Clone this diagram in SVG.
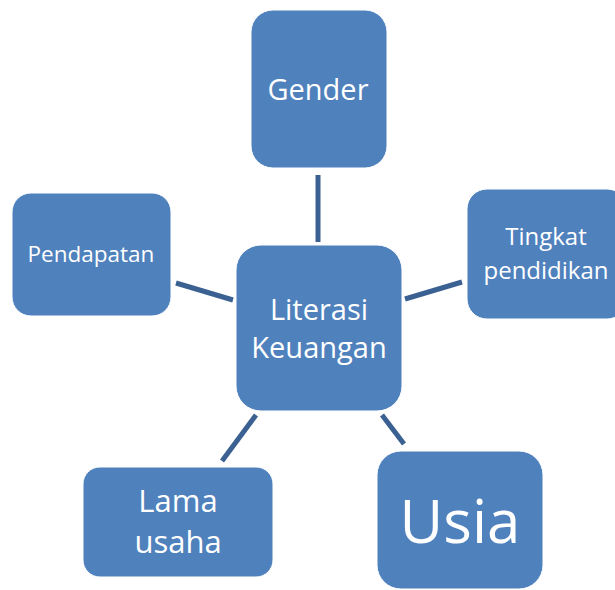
<svg xmlns="http://www.w3.org/2000/svg" width="615" height="590" viewBox="0 0 615 590">
<style>
.box{fill:#4f81bd;stroke:#ffffff;stroke-width:1}
.t{fill:#ffffff;font-family:"Open Sans","Noto Sans",sans-serif;text-anchor:middle}
.c{stroke:#3a6191;stroke-width:5;fill:none}
</style>
<rect width="615" height="590" fill="#ffffff"/>
<g id="connectors">
<line class="c" x1="318" y1="175" x2="318" y2="242"/>
<line class="c" x1="176" y1="283" x2="233" y2="300"/>
<line class="c" x1="405" y1="299" x2="462" y2="282"/>
<line class="c" x1="256" y1="415" x2="222" y2="461"/>
<line class="c" x1="382" y1="415" x2="404" y2="444"/>
</g>
<g id="gender">
<rect class="box" x="251" y="10" width="136" height="158" rx="22"/>
<text class="t" x="318" y="100" font-size="29">Gender</text>
</g>
<g id="pendapatan">
<rect class="box" x="12" y="193" width="159" height="123" rx="19"/>
<text class="t" x="91" y="262" font-size="22.5">Pendapatan</text>
</g>
<g id="tingkat">
<rect class="box" x="467" y="189" width="160" height="130" rx="20"/>
<text class="t" x="546" y="245" font-size="24">Tingkat</text>
<text class="t" x="546" y="279" font-size="24">pendidikan</text>
</g>
<g id="literasi">
<rect class="box" x="236" y="245" width="166" height="166" rx="25"/>
<text class="t" x="319" y="320" font-size="29">Literasi</text>
<text class="t" x="319" y="358" font-size="29">Keuangan</text>
</g>
<g id="lama">
<rect class="box" x="83" y="467" width="190" height="110" rx="17"/>
<text class="t" x="178" y="512" font-size="31">Lama</text>
<text class="t" x="178" y="553" font-size="31">usaha</text>
</g>
<g id="usia">
<rect class="box" x="377" y="451" width="166" height="138" rx="24"/>
<text class="t" x="460" y="543" font-size="60">Usia</text>
</g>
</svg>
